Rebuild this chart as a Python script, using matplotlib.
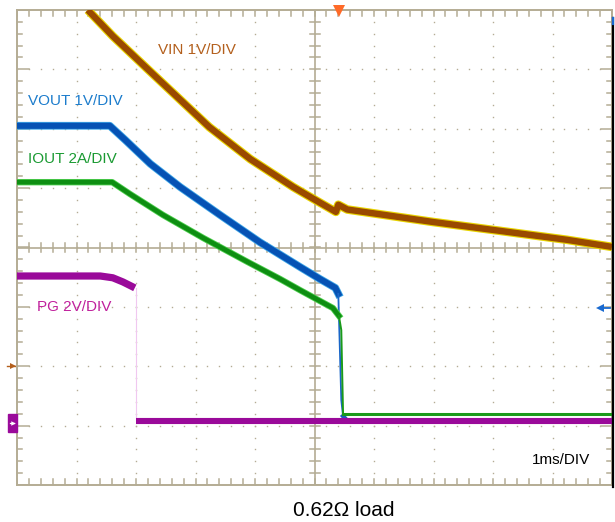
import numpy as np
import matplotlib
matplotlib.use('Agg')
import matplotlib.pyplot as plt
from matplotlib.patches import Rectangle

plt.rcParams['font.family'] = ['Liberation Sans', 'DejaVu Sans']

# traces, x in ms (1 ms/div), y in screen divisions (centre = 0)
vin_t = [1.19, 1.61, 2.19, 2.71, 3.23, 3.92, 4.64, 4.98, 5.36, 5.40, 5.55, 6.99, 8.12, 9.24, 10.0]
vin_y = [4.00, 3.56, 3.01, 2.52, 2.03, 1.49, 1.02, 0.82, 0.60, 0.72, 0.64, 0.43, 0.28, 0.13, 0.01]

vout_t = [0.0, 1.56, 1.82, 2.24, 2.74, 3.41, 4.08, 4.76, 5.09, 5.35, 5.40, 5.45, 5.48, 5.56, 10.0]
vout_y = [2.05, 2.05, 1.81, 1.41, 1.02, 0.55, 0.09, -0.33, -0.53, -0.68, -0.78, -2.57, -2.84, -2.93, -2.93]

iout_t = [0.0, 1.60, 1.90, 2.45, 3.13, 3.87, 4.42, 4.76, 5.09, 5.31, 5.41, 5.45, 5.48, 10.0]
iout_y = [1.10, 1.10, 0.90, 0.55, 0.16, -0.24, -0.53, -0.72, -0.90, -1.02, -1.15, -1.39, -2.80, -2.80]

pg_t = [0.0, 1.40, 1.61, 1.78, 1.98]
pg_y = [-0.48, -0.48, -0.51, -0.58, -0.68]
pg_low_t = [2.0, 10.0]
pg_low_y = [-2.93, -2.93]

GRID = '#b4ac94'

fig = plt.figure(figsize=(6.15, 5.22), dpi=100)
ax = fig.add_axes([17 / 615, 1 - 485 / 522, 595 / 615, 475 / 522])
ax.set_xlim(0, 10)
ax.set_ylim(-4, 4)
ax.set_xticks([])
ax.set_yticks([])
for s in ax.spines.values():
    s.set_color(GRID)
    s.set_linewidth(1.4)

# dotted graticule
minor = np.arange(0, 10.01, 0.2)
for gx in range(1, 10):
    if gx == 5:
        continue
    ys = np.arange(-4, 4.01, 0.2)
    ax.plot(np.full(ys.shape, gx), ys, ls='none', marker='s', ms=1.0, color=GRID, mew=0)
for gy in range(-3, 4):
    if gy == 0:
        continue
    ax.plot(minor, np.full(minor.shape, gy), ls='none', marker='s', ms=1.0, color=GRID, mew=0)

# centre cross and edge ticks
ax.axvline(5, color=GRID, lw=1.2)
ax.axhline(0, color=GRID, lw=1.2)
tx = 5 / 59.5
ty = 5 / 59.4
for v in np.arange(0, 10.01, 0.2):
    ax.plot([v, v], [0 - ty, 0 + ty], color=GRID, lw=1.1)
    ax.plot([v, v], [4, 4 - ty * 1.2], color=GRID, lw=1.1)
    ax.plot([v, v], [-4, -4 + ty * 1.2], color=GRID, lw=1.1)
for v in np.arange(-4, 4.01, 0.2):
    major = abs(v - round(v)) < 1e-6
    ln = 2.3 * tx if major else tx
    ax.plot([5 - tx, 5 + tx], [v, v], color=GRID, lw=1.1)
    ax.plot([0, ln], [v, v], color=GRID, lw=1.1)
    ax.plot([10, 10 - ln], [v, v], color=GRID, lw=1.1)

# traces
ax.plot(vin_t, vin_y, color='#e8d400', lw=6.2, solid_capstyle='butt', zorder=3)
ax.plot(vin_t, vin_y, color='#9a4a00', lw=4.6, solid_capstyle='butt', zorder=4)

ax.plot(vout_t[:11], vout_y[:11], color='#40a8e8', lw=5.6, zorder=3)
ax.plot(vout_t[:11], vout_y[:11], color='#0652b4', lw=4.4, zorder=4)
ax.plot(vout_t[10:13], vout_y[10:13], color='#1a66c8', lw=1.3, zorder=4)
ax.plot(vout_t[12:], vout_y[12:], color='#1a5ec0', lw=3.2, zorder=4)

ax.plot(iout_t[:11], iout_y[:11], color='#50d050', lw=4.6, zorder=5)
ax.plot(iout_t[:11], iout_y[:11], color='#0e8e12', lw=3.4, zorder=5)
ax.plot(iout_t[10:13], iout_y[10:13], color='#1a9a1a', lw=1.4, zorder=5)
ax.plot(iout_t[12:], iout_y[12:], color='#1a9a1a', lw=2.2, zorder=5)

ax.plot(pg_t, pg_y, color='#9a0a9a', lw=5.2, solid_capstyle='butt', zorder=5)
ax.plot([pg_t[-1] + 0.02, pg_low_t[0]], [pg_y[-1], pg_low_y[0]], color='#f0c8f0', lw=0.8, zorder=5)
ax.plot(pg_low_t, pg_low_y, color='#9a0a9a', lw=4.4, solid_capstyle='butt', zorder=6)

# labels
ax.text(2.37, 3.33, 'VIN 1V/DIV', color='#b35f1c', fontsize=11, va='center')
ax.text(0.18, 2.46, 'VOUT 1V/DIV', color='#1c7ccc', fontsize=11, va='center')
ax.text(0.18, 1.49, 'IOUT 2A/DIV', color='#1a9a32', fontsize=11, va='center')
ax.text(0.34, -1.0, 'PG 2V/DIV', color='#c0209c', fontsize=11, va='center')
ax.text(8.66, -3.58, '1ms/DIV', color='black', fontsize=11, va='center')
fig.text(344 / 615, 1 - 510 / 522, '0.62\u03a9 load', fontsize=15, ha='center', va='center')

# scope markers
ax.plot([5.41], [3.985], marker='v', ms=9, color='#ff6a28', mew=0, clip_on=False, zorder=8)
ax.plot([-0.17, -0.04], [-2.0, -2.0], color='#b35f1c', lw=1.0, clip_on=False)
ax.plot([-0.06], [-2.0], marker='>', ms=4.5, color='#b35f1c', mew=0, clip_on=False)
ax.add_patch(Rectangle((-0.15, -3.10), 0.15, 0.30, color='#9a0a9a', clip_on=False, zorder=7))
ax.plot([-0.12, -0.05], [-2.95, -2.95], color='white', lw=0.9, clip_on=False, zorder=8)
ax.plot([-0.06], [-2.95], marker='>', ms=3.2, color='white', mew=0, clip_on=False, zorder=8)
ax.plot([9.8, 9.97], [-1.02, -1.02], color='#1a6ad0', lw=1.3, zorder=8)
ax.plot([9.8], [-1.02], marker='<', ms=5.5, color='#1a6ad0', mew=0, zorder=8)
ax.plot([10.01, 10.01], [3.87, -4.03], color='black', lw=1.6, clip_on=False, zorder=9)
ax.plot([10.01, 10.01], [3.87, 3.76], color='#1a6ad0', lw=1.6, clip_on=False, zorder=10)

fig.savefig('out.png', dpi=100)
